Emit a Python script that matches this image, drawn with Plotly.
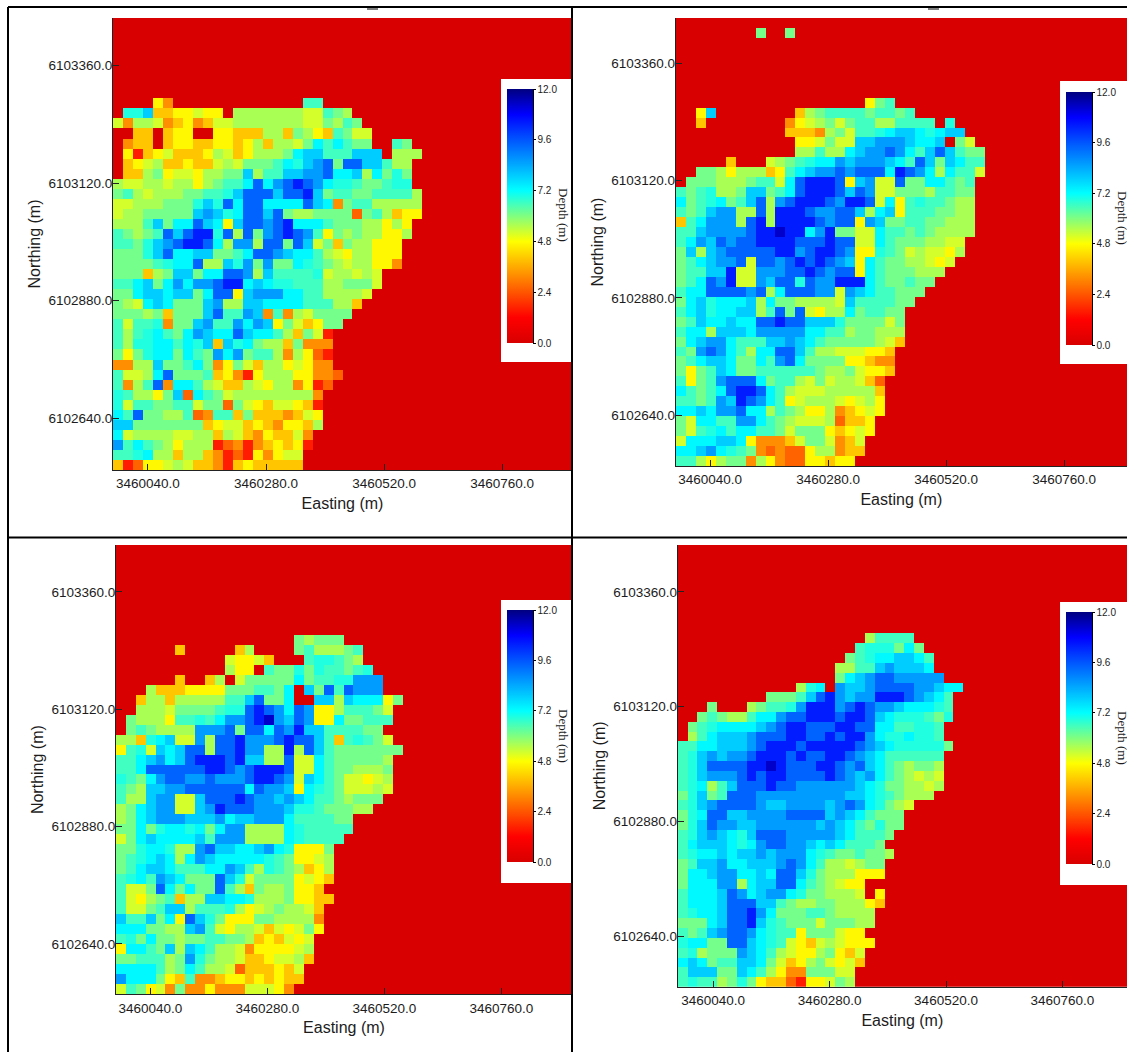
import plotly.graph_objects as go

W, H = 1127, 1052

# depth (m) for each colour class
DEPTH = dict(R=0.0, r=1.6, o=2.6, O=3.2, a=4.0, y=4.7, l=5.2, g=5.6, h=6.1, m=6.6, t=6.9,
             c=7.3, s=7.9, b=8.6, B=9.4, D=10.4, n=11.3)

X_TICKS = [3460040, 3460280, 3460520, 3460760]
Y_TICKS = [6102640, 6102880, 6103120, 6103360]
CBAR_TICKS = [0.0, 2.4, 4.8, 7.2, 9.6, 12.0]
N_COLS, N_ROWS = 46, 45
CELL_DX = 20.3

# rows from north to south, columns from west to east; missing columns are 0 depth
DEPTH_A = [""] * 8 + [
"RRRRyORRRRRRRRRRRRRmm",
"RttsaayylyyRgggggggllmhg",
"lOgglOayOallgggggggllhgmh",
"RRaaRayyRRyyaaaggahgyamhll",
"ROaaRayyaayyaygagglhcmcmhhRRmh",
"Ryraylaaayglayggghcssmmmsss" "Rggg",
"Raylgaayaalglhhhmctsb" "BhBBssmgg",
"Raaghyllyg" "ghhsgmmssb" "bBccsgchth",
"gllgglggyg" "hmmcBcbBDB" "bcttmhhmtt",
"hmglggghhm" "mtsBBBsBBD" "shmmhhmmmm" "g",
"llggghhhts" "tBcBBccccB" "scOhmmgggg" "g",
"lgghhhhhsb" "stcBBsBhgg" "hhhhohmgay" "y",
"gggmshccBs" "cysBBbBDcc" "cmhhhggygy",
"mhghmBsBDD" "tBgBhbBDBb" "myhghggyyg",
"mmhtsbBDDB" "cgbbgBBhBs" "lhahggyyy",
"hhhtsBccss" "hhmcBBbscc" "mglyggyyy",
"hhhhmtccBg" "gstbhbhhct" "mhglggyyO",
"hhhaghsshc" "cBBbgsmmmm" "tlgglgl",
"mmcshcbcbb" "BDDcscttmm" "mgghhhl",
"hhcsscsshc" "BBysbbbccm" "mggggl",
"hglcschhhs" "bggssccccm" "mmgga",
"hhhghahhhs" "BmmbsOmOgl" "hhhh",
"mlmmtOhhsb" "mmbcbsyhla" "yhh",
"mgmtcmhcbs" "ccBsccmgah" "lr",
"mgttccmcts" "astchggahO" "OO",
"hyhtcchcmh" "bcbhmmgOgy" "or",
"OOggshhmch" "Oyhlaggyly" "OO",
"mllgcBhhhm" "ayOrygggyy" "OOo",
"mOgmBOccmg" "laaglyggOy" "ro",
"tmggyhsocm" "hlgggggggg" "O",
"tlmmhhmmlh" "hohlyallya" "r",
"cmBhhggmoO" "mmahaaaOal" "y",
"sshhhhhhha" "yllayaOyya" "g",
"clggggllgg" "aglaOyaalO",
"bmcmhgyggg" "roOrOayayr",
"mmtcggagga" "OroryOyll",
"aroyylglaa" "Orayaaaaa",
]

DEPTH_B = ["", "RRRRRRRRhRRh"] + [""] * 6 + [
"RRRRRRRRRRRRRRRRRRRyhm",
"RRysRRRRRRRRaghmmmmhmmhm",
"RRaRRRRRRRROylghlhmmggmmmmRt",
"RRRRRRRRRRRaaaOghlmmtcssctcss",
"RRRRRRRRRRRRyylhllssbbbsccsRhl",
"RRRRRRRRRRRRggmggcsbbBbcmsBsmhh",
"RRRRRaRRRlghmtccbsbbbscmBshscmm",
"RRhhgygggaymcsbbBbBBBcDBbcgcmml",
"Rhhhggghmm" "lcBDDDBysb" "llBhhccmhm",
"mhmtgghssh" "mcBDDDBsBb" "llhhhgmmhh",
"chmtchmsBg" "bBDDDBbDDB" "lcymtmmhgg",
"mhmsbbggBg" "DDDBbbBBsg" "csymmmhhgg",
"amcbbbgBDg" "DDDDBbBByb" "shhmmhhggg",
"mmsbbbbBDD" "nDDcbDhhll" "cmmhmhgggg",
"mcbsBbBBDD" "DDBBBDBBll" "cmhhhggll",
"hsgsbBBBBB" "DDbBDDBbyy" "tmhlgllyg",
"hmcsbbBlBB" "bBDBDBbsyc" "mhhgglyl",
"hmmssDllbb" "bBBDBbBByc" "mhhhggg",
"hmcBbDllbs" "BBtBbbDDDc" "mhhmhh",
"mccBBBBbBg" "cBBBbblbsc" "mmhhh",
"hcstcccsgc" "hhgggglsmm" "mmhh",
"mcstccssgm" "BhBlyggchm" "mhh",
"hmsccsccBB" "DBBsssthhh" "hlh",
"mccgssscbb" "bbbccmmghh" "ggg",
"hcsbbcmmms" "sbscmhhhhh" "gla",
"mhbBbcmgcc" "BBsmggllly" "ya",
"hmcsschhcm" "bBchhhhyya" "OO",
"hyhmschhmm" "mmmmhgghly" "ya",
"myhmbBBBch" "mmglhlggla" "o",
"cmhmcBDDBc" "mglllggggg" "a",
"mmhmbsDBbc" "mylggglylg" "y",
"ccscbbBccg" "mhgyygOayl" "y",
"hlccmmbbcm" "hglllgoaay",
"hlmtcmccmm" "hlhhhyayly",
"lcccsscyOO" "OalhhlOal",
"ccsbctmhOo" "OooyggOaa",
"mmgyghhOgy" "Oooyyayy",
]

DEPTH_C = [""] * 9 + [
"RRRRRRRRRRRRRRRRRRhghhh",
"RRRRRRaRRRRRagRRRRhmggghm",
"RRRRRRRRRRRlyylaRRRmttmhg",
"RRRRRRRRRRRgyyRmhhthtmmhmt",
"RRRRRRaRRagRlhhhhhchmmttbbb",
"RRRgaaayyyy" "hhhmmhcRshBmBbbb",
"RRaggagggg" "gmmsBhhcRR" "ssgscccyh",
"RRggglhhhh" "mttBDBbcBb" "yygmmmhl",
"Rhgggymmtm" "cbbBDnbsBb" "yychhmmm",
"Rhmhggggbb" "bBhBBcBbDs" "smmmmhh",
"ggatcsllbg" "BBDbbbBDBB" "smamtmhl",
"ymtlscsBBg" "BBDbbggDgB" "smhhhhhhh",
"mmcsbcsBDD" "DBDssggBll" "cmhhhhhg",
"mmcBBBBBBD" "DBbBDDDBll" "cmhhgggh",
"tmhcbBBbbB" "bbbBDDBbls" "cmhllylg",
"mhgssbbBBB" "BBBcBbbsyc" "tmhlllgl",
"mggsbbllsB" "BBDBbbsbsc" "mmhghhh",
"ghcsbbllsb" "DBBBbbbstt" "mhhhgg",
"ghcsbbbsss" "bcssbbbcmm" "mmhh",
"hhchtcctch" "cbbggggctm" "mmmm",
"lhcsccccsm" "bbbggggctm" "mmm",
"hhtcctggbB" "ssccsbctyy" "yh",
"hmtcscgcbs" "ccccctmhyy" "lg",
"hmcsscmmmc" "cbsmgtmhga" "yg",
"mtcmbschhh" "Bstlhhhhyl" "ya",
"mllhBchchh" "Bmgahgghyy" "a",
"mlyghmaggs" "scctggghyy" "aa",
"mllhmssgmm" "mtgylghggl" "a",
"smmshcyBst" "hyyyhhgggg" "O",
"ccchhggsbm" "lygglalylh" "y",
"mthchhghhm" "mhhgayalyl",
"yccmhsgscm" "gglOyyyylg",
"hhmmmghbth" "gglaayllga",
"ccccmghcmg" "gloaaayal",
"bccchyamOO" "ayyayayaa",
"lmhylOhOOy" "OOOlllyO",
]

DEPTH_D = [""] * 9 + [
"RRRRRRRRRRRRRRRRRRRgmmmm",
"RRRRRRRRRRRRRRRRRRmttthch",
"RRRRRRRRRRRRRRRRRhmtccsscm",
"RRRRRRRRRRRRRRRRggmmsbsssc",
"RRRRRRRRRRRRRRRRhcsbBBbbbbb",
"RRRRRRRRRRRRgtcRbssbBBBBbbscc",
"RRRRRRRRRhhhmsBDbsbbDDDBbscm",
"RRRhRRRghm" "mtbDDDbBDB" "bbsccctm",
"RRhmhggmcc" "bBBDDDBDDB" "sctttmht",
"Rhmtccccsb" "BDDBBBDDBB" "ccmmttm",
"RgmcsssbBB" "BDDBBDBDDb" "cttcttm",
"mmccsssbBD" "DDBDDDDDBb" "scttttth",
"mtsbsbbBDD" "DBDBBDDBbs" "cmmmmmm",
"mtsBBBBDDn" "DBBBDDBbBs" "cmhghhg",
"mtsbbbBDBD" "DBBBBDBbsb" "cmhglgl",
"mtcgmsBBBD" "BBbbbbbbsc" "thhgglg",
"htshmBBBbb" "bbbbbbbssc" "tmhggg",
"mtsbBBBBbs" "sbbbbsbBbc" "thgl",
"htcBBssbbb" "bBBBBsbscm" "hhh",
"htsBbbssbb" "bbbbsbscmh" "thh",
"mtsbsctsBB" "Bbbbbbscmm" "mh",
"mcsssctcbB" "Bbbscscmmm" "h",
"mtccscssbs" "bbbctmhhmh" "hg",
"hmssbccsss" "bBbcmgglgh" "h",
"hccsbbccsc" "BBsthgggyy" "y",
"hcccbbgcss" "BBcmhglyy",
"mcccsBbcsb" "bcthhggglR" "y",
"mcccsBBBss" "mhgghhgggy" "a",
"mtccsBBDbc" "hhhmmhgggg",
"hhhcsBBDst" "mhhhlhhhgg",
"mhmsbBBbct" "mmyhhhlyy",
"tcchhBBsct" "mlyalglyyy",
"mtghhhbscm" "glyyghyal",
"cschmmssch" "layghlyla",
"mssshhscmg" "yOOhhhll",
"mtmmghthya" "aoryylhg",
]

PANELS = [
    dict(rows=DEPTH_A, box=(113, 572, 18, 470), xr=(3459969, 3460902), yr=(6102534.5, 6103457),
         leg=(501, 572, 79, 362), bar=(507, 533, 89, 343)),
    dict(rows=DEPTH_B, box=(675.7, 1127, 18, 466), xr=(3459970, 3460888), yr=(6102535.5, 6103453.5),
         leg=(1060, 1127, 81, 364), bar=(1066, 1092, 92, 345)),
    dict(rows=DEPTH_C, box=(116, 572, 545, 994.3), xr=(3459969.6, 3460905), yr=(6102537, 6103456),
         leg=(501, 572, 600, 883), bar=(507, 533, 610, 862)),
    dict(rows=DEPTH_D, box=(677.7, 1127, 545, 986.7), xr=(3459967, 3460893), yr=(6102535.6, 6103457.7),
         leg=(1060, 1127, 602, 885), bar=(1066, 1092, 612, 864)),
]

COLORS = [[0.0, "rgb(216,0,0)"], [0.1, "rgb(255,0,0)"], [0.2, "rgb(255,85,0)"], [0.3, "rgb(255,170,0)"],
          [0.4, "rgb(255,255,0)"], [0.5, "rgb(128,255,128)"], [0.6, "rgb(0,255,255)"], [0.7, "rgb(0,170,255)"],
          [0.8, "rgb(0,85,255)"], [0.9, "rgb(0,0,255)"], [1.0, "rgb(0,0,128)"]]

SANS = "Liberation Sans, Arial, sans-serif"
SERIF = "Liberation Serif, Times New Roman, serif"
INK = "#1c1c1c"


def decode(rows):
    grid = []
    for row in rows:
        grid.append([DEPTH[c] for c in row.ljust(N_COLS, "R")[:N_COLS]])
    grid += [[0.0] * N_COLS for _ in range(N_ROWS - len(grid))]
    return grid[::-1]


fig = go.Figure()
shapes = []
notes = []
for i, p in enumerate(PANELS):
    n = "" if i == 0 else str(i + 1)
    x0, x1, y0, y1 = p["box"]
    dy = (p["yr"][1] - p["yr"][0]) / N_ROWS
    lx0, lx1, ly0, ly1 = p["leg"]
    bx0, bx1, by0, by1 = p["bar"]
    fig.add_trace(go.Heatmap(
        z=decode(p["rows"]),
        x0=p["xr"][0] + CELL_DX / 2, dx=CELL_DX,
        y0=p["yr"][0] + dy / 2, dy=dy,
        zmin=0, zmax=12, colorscale=COLORS, xaxis="x" + n, yaxis="y" + n,
        colorbar=dict(
            x=bx0 / W, xanchor="left", xpad=0, y=1 - by1 / H, yanchor="bottom", ypad=0,
            lenmode="pixels", len=by1 - by0, thicknessmode="pixels", thickness=bx1 - bx0,
            outlinewidth=0, ticks="outside", ticklen=3, tickcolor="black",
            tickvals=CBAR_TICKS, ticktext=[f"{v:.1f}" for v in CBAR_TICKS],
            tickfont=dict(family=SANS, size=10, color=INK),
        ),
    ))
    axis = dict(showgrid=False, zeroline=False, showline=True, linecolor="#222", linewidth=1,
                ticks="inside", ticklen=6, tickcolor="#222", tickwidth=1,
                tickfont=dict(family=SANS, size=13.5, color=INK))
    fig.layout["xaxis" + n] = dict(
        axis, domain=[x0 / W, x1 / W], range=list(p["xr"]), anchor="y" + n,
        tickvals=X_TICKS, ticktext=[f"{v}.0" for v in X_TICKS], ticklabelstandoff=1,
        title=dict(text="Easting (m)", standoff=7, font=dict(family=SANS, size=16, color=INK)))
    fig.layout["yaxis" + n] = dict(
        axis, domain=[1 - y1 / H, 1 - y0 / H], range=list(p["yr"]), anchor="x" + n,
        tickvals=Y_TICKS, ticktext=[f"{v}.0" for v in Y_TICKS], ticklabelstandoff=-3,
        title=dict(text="Northing (m)", standoff=3, font=dict(family=SANS, size=16, color=INK)))
    shapes.append(dict(type="rect", xref="paper", yref="paper", x0=lx0 / W, x1=lx1 / W,
                       y0=1 - ly1 / H, y1=1 - ly0 / H, fillcolor="white", line_width=0, layer="above"))
    shapes.append(dict(type="line", xref="paper", yref="paper", x0=(bx1 + 0.5) / W, x1=(bx1 + 0.5) / W,
                       y0=1 - by1 / H, y1=1 - by0 / H, line=dict(color="black", width=1), layer="above"))
    notes.append(dict(text="Depth (m)", xref="paper", yref="paper", showarrow=False, textangle=90,
                      x=(bx0 + 57) / W, y=1 - (by0 + 126) / H, xanchor="center", yanchor="middle",
                      font=dict(family=SERIF, size=13, color=INK)))

# panel frame lines and the small stubs at the top edge
for a, b, c, d, w in [(8, 7, 1127, 7, 2), (8, 7, 8, 1052, 2), (572, 7, 572, 1052, 2), (8, 537.5, 1127, 537.5, 2),
                      (367, 9, 378, 9, 1), (928, 9, 939, 9, 1)]:
    shapes.append(dict(type="line", xref="paper", yref="paper", x0=a / W, x1=c / W, y0=1 - b / H, y1=1 - d / H,
                       line=dict(color="black", width=w), layer="above"))

fig.update_layout(width=W, height=H, margin=dict(l=0, r=0, t=0, b=0), paper_bgcolor="white",
                  plot_bgcolor="white", showlegend=False, shapes=shapes, annotations=notes)
fig.write_html("out.html", config=dict(displayModeBar=False),
               post_script="document.body.style.margin='0';document.body.style.overflow='hidden';")
